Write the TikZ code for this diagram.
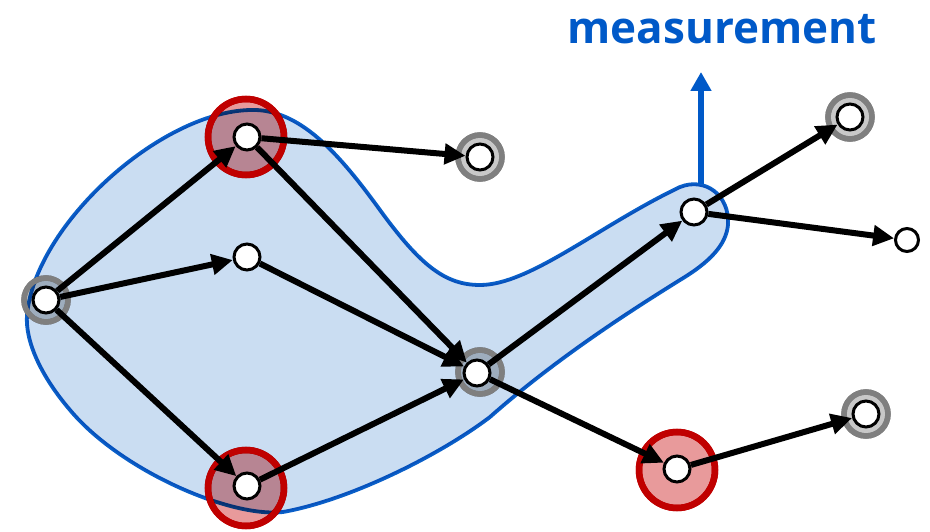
\documentclass[tikz,border=0pt]{standalone}
\usepackage{fontspec}
\newfontfamily\labelfont{Open Sans}
\usetikzlibrary{arrows.meta}
\definecolor{blobfill}{HTML}{CADDF2}
\definecolor{blobline}{HTML}{0A5FC8}
\definecolor{mblue}{HTML}{0059C8}
\definecolor{redfill}{HTML}{E89A9B}
\definecolor{redline}{HTML}{C00000}
\definecolor{grayfill}{HTML}{C8C8C8}
\definecolor{grayline}{HTML}{7F7F7F}
\tikzset{
  vertex/.style={circle, draw=black, fill=white, line width=3pt, inner sep=0pt, minimum size=26pt},
  smallvertex/.style={vertex, minimum size=23pt},
  grayring/.style={circle, draw=grayline, fill=grayfill, line width=5.5pt, inner sep=0pt, minimum size=44pt},
  redring/.style={circle, draw=redline, fill=redfill, line width=6.5pt, inner sep=0pt, minimum size=76pt},
  grayringline/.style={circle, draw=grayline, line width=5.5pt, inner sep=0pt, minimum size=44pt},
  redringline/.style={circle, draw=redline, line width=6.5pt, inner sep=0pt, minimum size=76pt},
  edge/.style={line width=6pt, -{Triangle[length=21pt,width=20pt]}},
  blob/.style={fill=blobfill, draw=blobline, line width=3.8pt},
}
\begin{document}
\begin{tikzpicture}[x=1pt,y=-1pt]
\useasboundingbox (0,0) rectangle (930,532);

% highlighted circles behind the region
\node[grayring] (ra) at (46,300) {};
\node[redring]  (rb) at (246,137) {};
\node[redring]  (rd) at (246,488) {};
\node[grayring] (re) at (480,372) {};
\node[grayring] (rg) at (480,157) {};
\node[grayring] (rh) at (850,117) {};
\node[redring]  (rj) at (677,470) {};
\node[grayring] (rk) at (866,414) {};

% shaded region
\begin{scope}[blend mode=multiply]
\draw[blob] (27,315)
  .. controls (35,225) and (160,112) .. (250,110)
  .. controls (300,108) and (340,155) .. (380,210)
  .. controls (420,265) and (445,285) .. (480,285)
  .. controls (530,285) and (600,225) .. (680,187)
  .. controls (705,177) and (730,195) .. (728,225)
  .. controls (726,245) and (710,262) .. (680,280)
  .. controls (640,305) and (560,355) .. (490,417)
  .. controls (440,455) and (350,500) .. (283,512)
  .. controls (230,518) and (120,470) .. (70,410)
  .. controls (40,375) and (25,340) .. cycle;
\end{scope}

% ring outlines stay on top of the region
\foreach \p in {ra,re,rg,rh,rk} \node[grayringline] at (\p) {};
\foreach \p in {rb,rd,rj} \node[redringline] at (\p) {};

% vertices
\node[vertex] (A) at (46,300) {};
\node[vertex] (B) at (247,137) {};
\node[vertex] (C) at (247,257) {};
\node[vertex] (D) at (247,486) {};
\node[vertex] (E) at (477,373) {};
\node[vertex] (F) at (694,212) {};
\node[vertex] (G) at (480,157) {};
\node[vertex] (H) at (850,117) {};
\node[smallvertex] (I) at (907,240) {};
\node[vertex] (J) at (677,469) {};
\node[vertex] (K) at (866,414) {};

% directed edges
\draw[edge] (A) -- (B);
\draw[edge] (A) -- (C);
\draw[edge] (A) -- (D);
\draw[edge] (B) -- (G);
\draw[edge] (B) -- (E);
\draw[edge] (C) -- (E);
\draw[edge] (D) -- (E);
\draw[edge] (E) -- (F);
\draw[edge] (E) -- (J);
\draw[edge] (F) -- (H);
\draw[edge] (F) -- (I);
\draw[edge] (J) -- (K);

% measurement arrow and label
\coordinate (mbase) at (701,184);
\coordinate (mtip) at (701,72);
\draw[mblue, line width=5.5pt, -{Triangle[length=19pt,width=20pt]}] (mbase) -- (mtip);
\node[text=mblue, font=\labelfont\bfseries\fontsize{44}{48}\selectfont, anchor=base] (mlabel) at (722,44) {measurement};
\end{tikzpicture}
\end{document}
